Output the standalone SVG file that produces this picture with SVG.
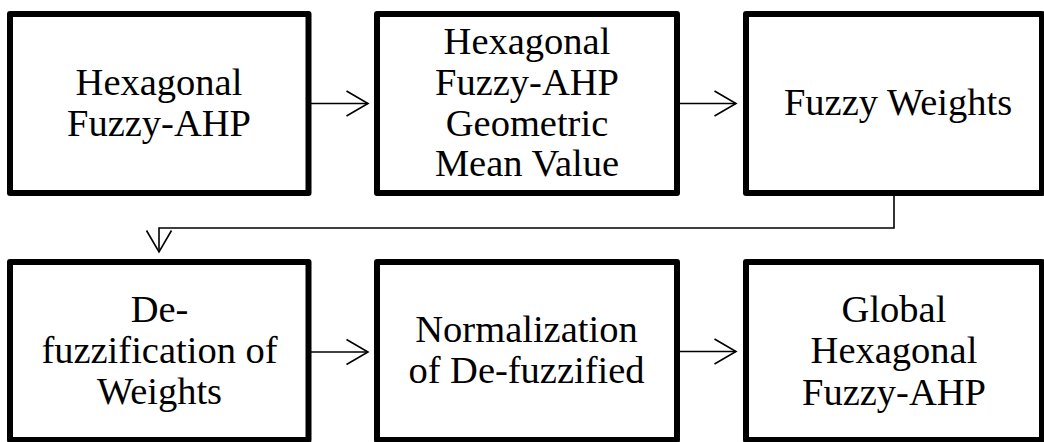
<svg xmlns="http://www.w3.org/2000/svg" width="1044" height="442" viewBox="0 0 1044 442">
<defs>
<style>
.box{fill:#fff;stroke:#000;stroke-width:6;stroke-linejoin:round}
.lbl{font-family:'Liberation Serif','Times New Roman',Times,serif;font-size:38.5px;fill:#000;text-anchor:middle}
.con{fill:none;stroke:#000;stroke-width:1.6}
</style>
<marker id="arr" markerUnits="userSpaceOnUse" markerWidth="30" markerHeight="30" viewBox="-24 -15 28 30" refX="0" refY="0" orient="auto">
<path d="M-21.5,-12.5 L0,0 L-21.5,12.5" fill="none" stroke="#000" stroke-width="1.6"/>
</marker>
</defs>
<rect width="1044" height="442" fill="#fff"/>
<g id="connectors">
<line class="con" x1="311" y1="103.5" x2="368" y2="103.5" marker-end="url(#arr)"/>
<line class="con" x1="680" y1="103.5" x2="736" y2="103.5" marker-end="url(#arr)"/>
<polyline class="con" points="894,196 894,228 159,228 159,252" marker-end="url(#arr)"/>
<line class="con" x1="311" y1="352" x2="368" y2="352" marker-end="url(#arr)"/>
<line class="con" x1="680" y1="351.5" x2="736" y2="351.5" marker-end="url(#arr)"/>
</g>
<g font-family="Liberation Serif, Times New Roman, serif">
<g id="node1">
<rect class="box" x="10" y="14" width="298.5" height="179"/>
<text class="lbl" x="159" y="95">Hexagonal</text>
<text class="lbl" x="159" y="136">Fuzzy-AHP</text>
</g>
<g id="node2">
<rect class="box" x="377" y="14" width="300" height="179"/>
<text class="lbl" x="527" y="54">Hexagonal</text>
<text class="lbl" x="527" y="95">Fuzzy-AHP</text>
<text class="lbl" x="527" y="135.5">Geometric</text>
<text class="lbl" x="527" y="176">Mean Value</text>
</g>
<g id="node3">
<rect class="box" x="746" y="14" width="296" height="179"/>
<text class="lbl" x="898" y="115">Fuzzy Weights</text>
</g>
<g id="node4">
<rect class="box" x="10" y="262" width="298.5" height="178"/>
<text class="lbl" x="159.5" y="322">De-</text>
<text class="lbl" x="159.5" y="363">fuzzification of</text>
<text class="lbl" x="159.5" y="403.5">Weights</text>
</g>
<g id="node5">
<rect class="box" x="377" y="262" width="300" height="178"/>
<text class="lbl" x="526.5" y="341.5">Normalization</text>
<text class="lbl" x="526.5" y="383">of De-fuzzified</text>
</g>
<g id="node6">
<rect class="box" x="746" y="262" width="296" height="178"/>
<text class="lbl" x="894" y="322">Global</text>
<text class="lbl" x="894" y="363">Hexagonal</text>
<text class="lbl" x="894" y="405">Fuzzy-AHP</text>
</g>
</g>
</svg>
